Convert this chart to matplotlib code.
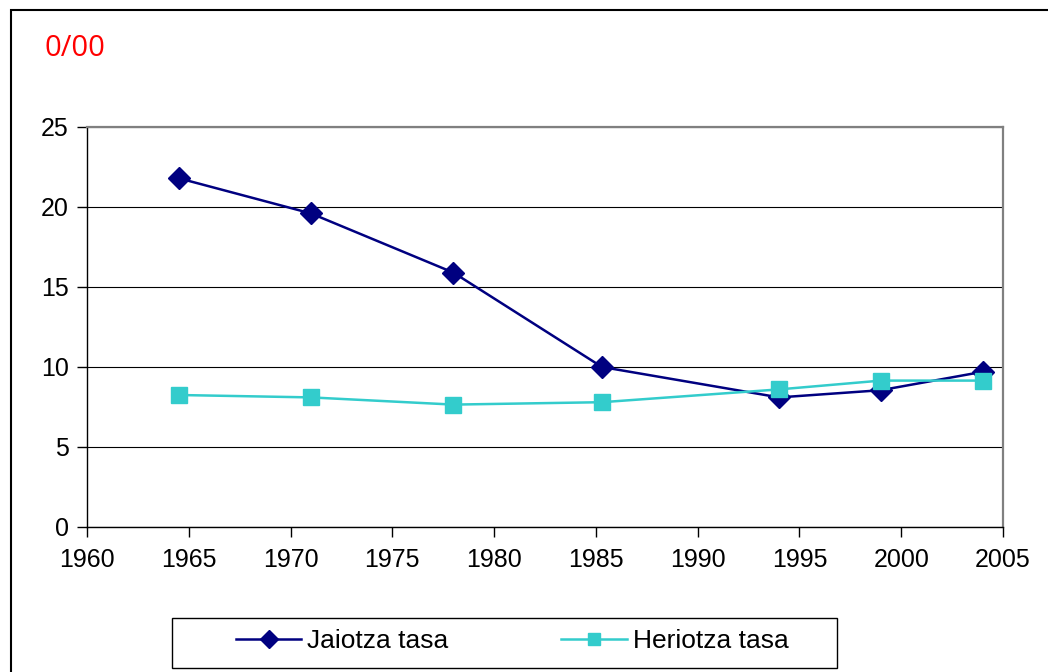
import matplotlib
matplotlib.use("Agg")
import matplotlib.pyplot as plt
from matplotlib.patches import Rectangle

years_birth = [1964.5, 1971.0, 1978.0, 1985.3, 1994.0, 1999.0, 2004.0]
birth_rate = [21.8, 19.6, 15.9, 10.0, 8.1, 8.55, 9.7]
years_death = [1964.5, 1971.0, 1978.0, 1985.3, 1994.0, 1999.0, 2004.0]
death_rate = [8.25, 8.1, 7.65, 7.8, 8.6, 9.15, 9.15]
xticks = [1960, 1965, 1970, 1975, 1980, 1985, 1990, 1995, 2000, 2005]
yticks = [0, 5, 10, 15, 20, 25]

plt.rcParams['font.family'] = ['Liberation Sans', 'DejaVu Sans']

W, H = 1048, 672
fig = plt.figure(figsize=(W / 100, H / 100), dpi=100)
ax = fig.add_axes([87 / W, 1 - 527 / H, (1003 - 87) / W, (527 - 127) / H])

ax.plot(years_birth, birth_rate, color='#000080', marker='D', markersize=11,
        linewidth=1.8, label='Jaiotza tasa', zorder=3)
ax.plot(years_death, death_rate, color='#33CCCC', marker='s', markersize=11,
        linewidth=1.8, label='Heriotza tasa', zorder=3)

ax.set_xlim(1960, 2005)
ax.set_ylim(0, 25)
ax.set_xticks(xticks)
ax.set_yticks(yticks)
ax.tick_params(axis='both', labelsize=18, length=7, width=1, color='black')
ax.tick_params(axis='x', pad=8)
ax.tick_params(axis='y', pad=6)
ax.grid(axis='y', color='black', linewidth=0.8)
ax.set_axisbelow(True)
for s in ['top', 'right']:
    ax.spines[s].set_color('#808080')
    ax.spines[s].set_linewidth(1.6)
for s in ['left', 'bottom']:
    ax.spines[s].set_color('black')
    ax.spines[s].set_linewidth(1)

fig.text(45 / W, 1 - 48 / H, '0/00', color='red', fontsize=21,
         family=['Open Sans', 'DejaVu Sans'], va='center', ha='left')

# outer chart border
fig.patches.append(Rectangle((11 / W, -0.01), 1.1, 1 - 10 / H + 0.01,
                             transform=fig.transFigure, fill=False,
                             edgecolor='black', linewidth=1.5))

# legend frame
fig.patches.append(Rectangle((172 / W, 1 - 668 / H), (837 - 172) / W, 50 / H,
                             transform=fig.transFigure, fill=False,
                             edgecolor='black', linewidth=1))

leg = fig.legend(loc='center', bbox_to_anchor=(512 / W, 1 - 641 / H),
                 ncol=2, fontsize=19, frameon=False, markerscale=0.85,
                 handlelength=2.5, columnspacing=4.3,
                 borderpad=0.0, handletextpad=0.2)

fig.savefig('out.png', dpi=100, facecolor='white')
